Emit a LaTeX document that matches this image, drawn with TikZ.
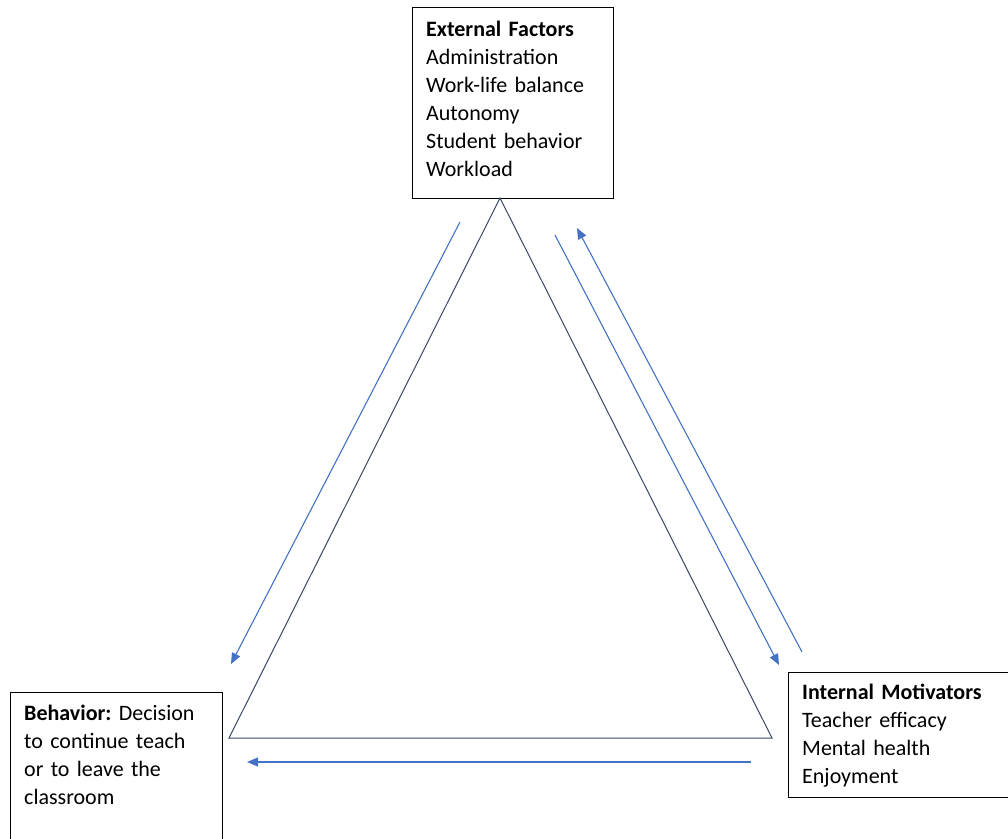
\documentclass[tikz,border=0pt]{standalone}
\usepackage{fontspec}
\setmainfont{Carlito}
\frenchspacing
\usetikzlibrary{arrows.meta}
\definecolor{arrowblue}{HTML}{4472C4}
\definecolor{triline}{HTML}{3A4766}
\tikzset{
  boxframe/.style={draw=black, line width=1.1pt, fill=white, inner sep=0pt},
  boxtext/.style={inner sep=0pt, align=left, text width=#1, font=\fontsize{22}{28}\selectfont\frenchspacing, anchor=base west},
  flow/.style={draw=arrowblue, line width=1.1pt, -{Triangle[length=11pt,width=9pt]}},
  tri/.style={draw=triline, line width=1pt}
}
\begin{document}
\begin{tikzpicture}[x=1pt,y=-1pt]
\useasboundingbox (0,0) rectangle (1008,838);
% boxes
\node[boxframe, anchor=north west, minimum width=201pt, minimum height=191pt] (topbox) at (412,7) {};
\node[boxframe, anchor=north west, minimum width=212pt, minimum height=160pt] (leftbox) at (10,692) {};
\node[boxframe, anchor=north west, minimum width=240pt, minimum height=125pt] (rightbox) at (788,672) {};
% texts
\node[boxtext=185pt] (toptext) at (426,36) {\textbf{External Factors}\\Administration\\Work-life balance\\Autonomy\\Student behavior\\Workload};
\node[boxtext=195pt] (lefttext) at (24,720) {\textbf{Behavior:} Decision\\to continue teach\\or to leave the\\classroom};
\node[boxtext=215pt] (righttext) at (802,699) {\textbf{Internal Motivators}\\Teacher efficacy\\Mental health\\Enjoyment};
% triangle
\coordinate (apex) at (500,198);
\coordinate (bl) at (229,738);
\coordinate (br) at (772,738);
\draw[tri] (apex) -- (bl) -- (br) -- cycle;
% arrows
\coordinate (a1s) at (460,222);
\coordinate (a1e) at (231,664);
\coordinate (a2s) at (555,235);
\coordinate (a2e) at (779,665);
\coordinate (a3s) at (802,652);
\coordinate (a3e) at (577,228);
\coordinate (a4s) at (751,762);
\coordinate (a4e) at (247,762);
\draw[flow] (a1s) -- (a1e);
\draw[flow] (a2s) -- (a2e);
\draw[flow] (a3s) -- (a3e);
\draw[flow] (a4s) -- (a4e);
\end{tikzpicture}
\end{document}
